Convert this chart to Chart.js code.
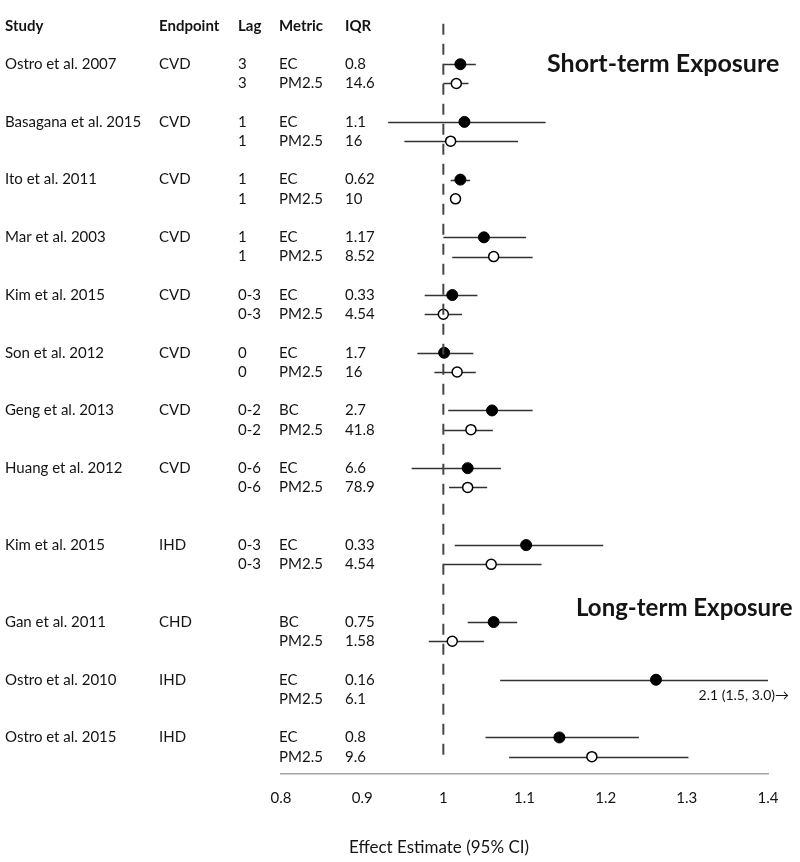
<!DOCTYPE html>
<html>
<head>
<meta charset="utf-8">
<script src="https://cdn.jsdelivr.net/npm/chart.js@4"></script>
<style>
  body { margin: 0; background: #fff; }
  #wrap { width: 800px; height: 862px; }
</style>
</head>
<body>
<div id="wrap"><canvas id="forest" width="800" height="862"></canvas></div>
<script>
// --- data ---
const studies = ['Ostro et al. 2007', 'Basagana et al. 2015', 'Ito et al. 2011', 'Mar et al. 2003',
  'Kim et al. 2015', 'Son et al. 2012', 'Geng et al. 2013', 'Huang et al. 2012',
  'Kim et al. 2015', 'Gan et al. 2011', 'Ostro et al. 2010', 'Ostro et al. 2015'];
const endpoints = ['CVD', 'CVD', 'CVD', 'CVD', 'CVD', 'CVD', 'CVD', 'CVD', 'IHD', 'CHD', 'IHD', 'IHD'];
const lags = ['3', '1', '1', '1', '0-3', '0', '0-2', '0-6', '0-3', '', '', ''];
const carbonMetric = ['EC', 'EC', 'EC', 'EC', 'EC', 'EC', 'BC', 'EC', 'EC', 'BC', 'EC', 'EC'];
const carbonIQR = ['0.8', '1.1', '0.62', '1.17', '0.33', '1.7', '2.7', '6.6', '0.33', '0.75', '0.16', '0.8'];
const pmIQR = ['14.6', '16', '10', '8.52', '4.54', '16', '41.8', '78.9', '4.54', '1.58', '6.1', '9.6'];

// row of the EC/BC line for each study (PM2.5 sits one row below)
const rowPos = [0, 3, 6, 9, 12, 15, 18, 21, 25, 29, 32, 35];

// EC / BC estimates
const ecEst  = [1.021, 1.026, 1.021, 1.050, 1.011, 1.001, 1.060, 1.030, 1.102, 1.062, 1.262, 1.143];
const ecLow  = [1.000, 0.932, 1.009, 1.000, 0.977, 0.968, 1.006, 0.961, 1.014, 1.030, 1.070, 1.052];
const ecHigh = [1.040, 1.126, 1.033, 1.102, 1.042, 1.037, 1.110, 1.071, 1.197, 1.091, 1.400, 1.241];

// PM2.5 estimates
const pmEst  = [1.016, 1.009, 1.015, 1.062, 1.000, 1.017, 1.034, 1.030, 1.059, 1.011, 2.1, 1.183];
const pmLow  = [1.000, 0.952, 1.010, 1.011, 0.977, 0.989, 1.001, 1.007, 1.000, 0.982, 1.5, 1.081];
const pmHigh = [1.031, 1.092, 1.020, 1.110, 1.023, 1.040, 1.061, 1.054, 1.121, 1.050, 3.0, 1.302];

const xTicks = [0.8, 0.9, 1, 1.1, 1.2, 1.3, 1.4];

const FONT = 'Lato, "Open Sans", sans-serif';
const ink = '#141414';

// error bars, clipped to the plot area
const ciPlugin = {
  id: 'ciBars',
  beforeDatasetsDraw(chart) {
    const { ctx, chartArea, scales: { x, y } } = chart;
    ctx.save();
    ctx.beginPath();
    ctx.rect(chartArea.left, chartArea.top, chartArea.width, chartArea.height);
    ctx.clip();
    ctx.strokeStyle = '#333';
    ctx.lineWidth = 1.4;
    const bar = (lo, hi, row) => {
      const py = Math.round(y.getPixelForValue(row)) + 0.5;
      ctx.beginPath();
      ctx.moveTo(x.getPixelForValue(lo), py);
      ctx.lineTo(x.getPixelForValue(hi), py);
      ctx.stroke();
    };
    rowPos.forEach((r, i) => {
      bar(ecLow[i], ecHigh[i], r);
      bar(pmLow[i], pmHigh[i], r + 1);
    });
    ctx.restore();
  }
};

// study table, section labels and off-scale note
const tablePlugin = {
  id: 'table',
  afterDraw(chart) {
    const { ctx, scales: { x, y } } = chart;
    const cols = [5, 159, 238, 279, 345];
    ctx.save();
    ctx.fillStyle = ink;
    ctx.textBaseline = 'middle';
    ctx.textAlign = 'left';

    ctx.font = 'bold 15px ' + FONT;
    const hy = y.getPixelForValue(-2);
    ['Study', 'Endpoint', 'Lag', 'Metric', 'IQR'].forEach((h, k) => ctx.fillText(h, cols[k], hy));

    ctx.font = '15px ' + FONT;
    rowPos.forEach((r, i) => {
      const y1 = y.getPixelForValue(r);
      const y2 = y.getPixelForValue(r + 1);
      ctx.fillText(studies[i], cols[0], y1);
      ctx.fillText(endpoints[i], cols[1], y1);
      ctx.fillText(lags[i], cols[2], y1);
      ctx.fillText(lags[i], cols[2], y2);
      ctx.fillText(carbonMetric[i], cols[3], y1);
      ctx.fillText('PM2.5', cols[3], y2);
      ctx.fillText(carbonIQR[i], cols[4], y1);
      ctx.fillText(pmIQR[i], cols[4], y2);

      // estimate beyond the axis: print it instead
      if (pmEst[i] > x.max) {
        ctx.font = '14px ' + FONT;
        ctx.textAlign = 'right';
        ctx.fillText(pmEst[i] + ' (' + pmLow[i].toFixed(1) + ', ' + pmHigh[i].toFixed(1) + ')\u2192', 789, y2 - 3);
        ctx.textAlign = 'left';
        ctx.font = '15px ' + FONT;
      }
    });

    ctx.font = 'bold 25px ' + FONT;
    ctx.fillText('Short-term Exposure', 547, y.getPixelForValue(0));
    ctx.font = 'bold 24px ' + FONT;
    ctx.fillText('Long-term Exposure', 576, y.getPixelForValue(28.3));

    ctx.font = '17px ' + FONT;
    ctx.textAlign = 'center';
    ctx.fillText('Effect Estimate (95% CI)', 439, 848);
    ctx.restore();
  }
};

const ctx = document.getElementById('forest').getContext('2d');
new Chart(ctx, {
  type: 'scatter',
  data: {
    datasets: [
      {
        type: 'line',
        label: 'null',
        data: [{ x: 1, y: -2.1 }, { x: 1, y: 36.05 }],
        borderColor: '#444',
        borderWidth: 2,
        borderDash: [11, 9],
        pointRadius: 0
      },
      {
        label: 'EC / BC',
        data: rowPos.map((r, i) => ({ x: ecEst[i], y: r })),
        backgroundColor: '#000',
        borderColor: '#000',
        borderWidth: 1,
        pointRadius: 5.5
      },
      {
        label: 'PM2.5',
        data: rowPos.map((r, i) => ({ x: pmEst[i], y: r + 1 })),
        backgroundColor: '#fff',
        borderColor: '#000',
        borderWidth: 1.5,
        pointRadius: 5
      }
    ]
  },
  options: {
    responsive: false,
    animation: false,
    layout: { padding: { left: 281, right: 32, top: 0, bottom: 0 } },
    plugins: {
      legend: { display: false },
      tooltip: { enabled: false }
    },
    scales: {
      x: {
        type: 'linear',
        min: 0.8,
        max: 1.4,
        afterBuildTicks: (scale) => { scale.ticks = xTicks.map(v => ({ value: v })); },
        afterFit: (scale) => { scale.height = 88; },
        grid: { display: false, drawTicks: false },
        border: { display: true, color: '#a3a3a3', width: 1.5 },
        ticks: {
          padding: 15,
          color: ink,
          font: { family: FONT, size: 15 },
          callback: (v) => String(+v.toFixed(1))
        }
      },
      y: {
        type: 'linear',
        display: false,
        reverse: true,
        min: -3,
        max: 36.9
      }
    }
  },
  plugins: [ciPlugin, tablePlugin]
});
</script>
</body>
</html>
